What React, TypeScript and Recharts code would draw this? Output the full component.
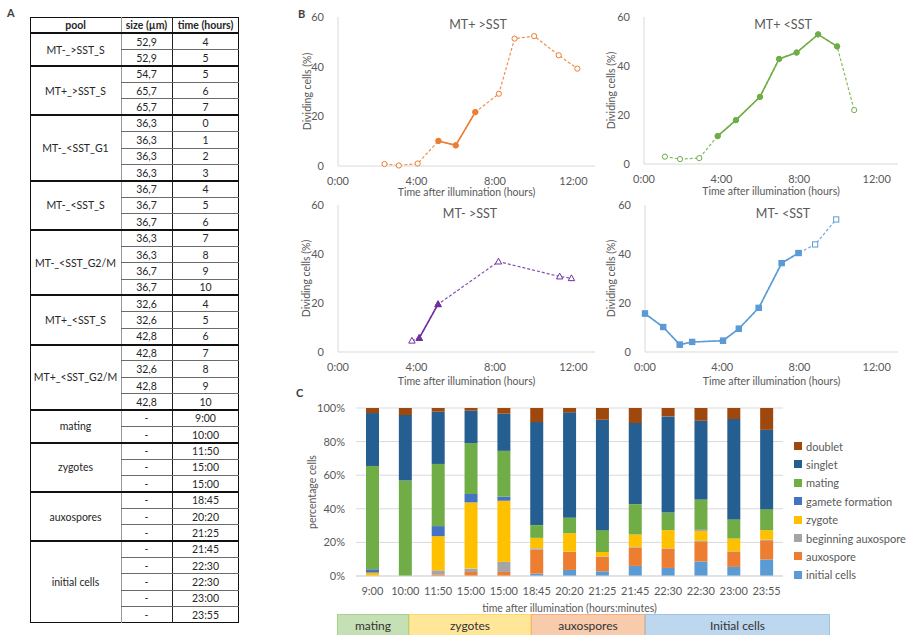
import React from 'react'
import { LineChart, Line, XAxis, YAxis, BarChart, Bar, CartesianGrid } from 'recharts'

const FONT = 'Lato, "Liberation Sans", sans-serif'
const GREY = '#595959'
const AXIS = '#d9d9d9'

// Panel A table
const poolNames = ['MT-_>SST_S', 'MT+_>SST_S', 'MT-_<SST_G1', 'MT-_<SST_S', 'MT-_<SST_G2/M', 'MT+_<SST_S', 'MT+_<SST_G2/M', 'mating', 'zygotes', 'auxospores', 'initial cells']
const poolSizes = [
  ['52,9', '52,9'], ['54,7', '65,7', '65,7'], ['36,3', '36,3', '36,3', '36,3'], ['36,7', '36,7', '36,7'],
  ['36,3', '36,3', '36,7', '36,7'], ['32,6', '32,6', '42,8'], ['42,8', '32,6', '42,8', '42,8'],
  ['-', '-'], ['-', '-', '-'], ['-', '-', '-'], ['-', '-', '-', '-', '-']
]
const poolTimes = [
  ['4', '5'], ['5', '6', '7'], ['0', '1', '2', '3'], ['4', '5', '6'], ['7', '8', '9', '10'], ['4', '5', '6'],
  ['7', '8', '9', '10'], ['9:00', '10:00'], ['11:50', '15:00', '15:00'], ['18:45', '20:20', '21:25'],
  ['21:45', '22:30', '22:30', '23:00', '23:55']
]
const tableHeaders = ['pool', 'size (µm)', 'time (hours)']

// Panel B: dividing cells (%) vs hours after illumination, 1 = measured on solid part
const mtPlusBigHours = [2.37, 3.1, 4.06, 5.12, 6.0, 7.0, 8.2, 9.0, 10.0, 11.25, 12.2]
const mtPlusBigValues = [0.8, 0.2, 1.0, 10.1, 8.3, 21.7, 29.1, 51.3, 52.3, 44.6, 39.2]
const mtPlusBigSolid = [0, 0, 0, 1, 1, 1, 0, 0, 0, 0, 0]

const mtPlusSmallHours = [1.08, 1.86, 2.85, 3.8, 4.74, 5.98, 6.97, 7.87, 8.98, 9.96, 10.84]
const mtPlusSmallValues = [3.0, 2.0, 2.4, 11.4, 17.9, 27.4, 42.9, 45.5, 52.9, 48.0, 22.0]
const mtPlusSmallSolid = [0, 0, 0, 1, 1, 1, 1, 1, 1, 1, 0]

const mtMinusBigHours = [3.77, 4.14, 5.1, 8.18, 11.3, 11.9]
const mtMinusBigValues = [4.6, 5.7, 19.5, 36.9, 30.8, 30.1]
const mtMinusBigSolid = [0, 1, 1, 0, 0, 0]

const mtMinusSmallHours = [0, 0.94, 1.8, 2.44, 4.04, 4.86, 5.89, 7.08, 7.95, 8.81, 9.9]
const mtMinusSmallValues = [15.7, 10.2, 3.0, 4.1, 4.6, 9.5, 18.0, 36.3, 40.4, 43.9, 54.1]
const mtMinusSmallSolid = [1, 1, 1, 1, 1, 1, 1, 1, 1, 0, 0]

// Panel C: stage composition per sample (%)
const sampleTimes = ['9:00', '10:00', '11:50', '15:00', '15:00', '18:45', '20:20', '21:25', '21:45', '22:30', '22:30', '23:00', '23:55']
const initialCells = [0, 0, 0, 0, 0, 1.4, 3.6, 2.8, 6, 4.8, 8.6, 5.4, 9.8]
const auxospore = [0, 0, 1, 2.4, 2.4, 14.3, 10.7, 8.6, 10.9, 11.5, 11.7, 8.9, 11.5]
const beginningAuxospore = [0, 0, 2.4, 2, 6, 0.8, 0.2, 0.3, 0.4, 0.2, 0.6, 0.4, 0.4]
const zygote = [2, 0, 20.3, 39.4, 36.4, 6.2, 11, 2.6, 7.4, 10.8, 6.2, 7.6, 5.6]
const gameteFormation = [2, 0, 6, 5, 2.4, 0, 0, 0, 0, 0, 0.6, 0, 0]
const mating = [61.5, 56.8, 37, 30.3, 27.3, 7.6, 9.2, 13, 18.1, 10.5, 17.9, 11.4, 12.5]
const singlet = [31.5, 39, 31.1, 19.3, 22.1, 61.3, 62.9, 65.7, 48.2, 57.2, 46.8, 59.7, 47.2]
const doublet = [3, 4.2, 2.2, 1.6, 3.4, 8.4, 2.6, 7, 9, 5, 7.6, 6.6, 13]

const stageNames = ['initial cells', 'auxospore', 'beginning auxospore', 'zygote', 'gamete formation', 'mating', 'singlet', 'doublet']
const stageValues = [initialCells, auxospore, beginningAuxospore, zygote, gameteFormation, mating, singlet, doublet]
const stageColors = ['#5b9bd5', '#ed7d31', '#a5a5a5', '#ffc000', '#4472c4', '#70ad47', '#255e91', '#9e480e']

const phaseNames = ['mating', 'zygotes', 'auxospores', 'Initial cells']
const phaseFills = ['#c5e0b4', '#ffe699', '#f8cbad', '#bdd7ee']
const phaseBorders = ['#a9d18e', '#ffd966', '#f4b183', '#9dc3e6']

// ---------- helpers ----------
const YTitle = ({ viewBox, text, gap }: any) => {
  const cx = viewBox.x + viewBox.width - gap
  const cy = viewBox.y + viewBox.height / 2
  return (
    <text x={cx} y={cy} transform={`rotate(-90 ${cx} ${cy})`} textAnchor="middle" dominantBaseline="central" fill={GREY} fontSize={10.5} fontFamily={FONT}>
      {text}
    </text>
  )
}

const XTitle = ({ viewBox, text, gap }: any) => {
  const cx = viewBox.x + viewBox.width / 2
  const cy = viewBox.y + gap
  return (
    <text x={cx} y={cy} textAnchor="middle" dominantBaseline="central" fill={GREY} fontSize={10.5} fontFamily={FONT}>
      {text}
    </text>
  )
}

const Marker = ({ cx, cy, shape, color, hollow }: any) => {
  if (cx == null || cy == null) return <g />
  const props = { fill: hollow ? '#fff' : color, stroke: color, strokeWidth: 1 }
  if (shape === 'triangle')
    return <path d={`M${cx},${cy - 3.4}L${cx + 3.2},${cy + 2.4}L${cx - 3.2},${cy + 2.4}Z`} {...props} />
  if (shape === 'square') return <rect x={cx - 2.6} y={cy - 2.6} width={5.2} height={5.2} {...props} />
  return <circle cx={cx} cy={cy} r={2.6} {...props} />
}

// ---------- panel A ----------
const TCOLS = [30, 121, 172, 239]
const TTOP = 17
const ROW_H = 16.38

function PoolTable() {
  const items: React.ReactNode[] = []
  const cell = (key: string, x0: number, x1: number, y: number, h: number, text: string, bold = false) => (
    <div key={key} style={{
      position: 'absolute', left: x0, top: y, width: x1 - x0, height: h,
      display: 'flex', alignItems: 'center', justifyContent: 'center',
      fontWeight: bold ? 700 : 400
    }}>{text}</div>
  )
  const hline = (key: string, x0: number, x1: number, y: number, w: number, c: string) => (
    <div key={key} style={{ position: 'absolute', left: x0, top: y - w / 2, width: x1 - x0, height: w, background: c }} />
  )
  tableHeaders.forEach((h, i) => items.push(cell(`h${i}`, TCOLS[i], TCOLS[i + 1], TTOP, ROW_H, h, true)))
  let row = 1
  poolNames.forEach((name, g) => {
    const n = poolSizes[g].length
    const y0 = TTOP + row * ROW_H
    items.push(cell(`p${g}`, TCOLS[0], TCOLS[1], y0, n * ROW_H, name))
    for (let i = 0; i < n; i++) {
      const y = y0 + i * ROW_H
      items.push(cell(`s${g}-${i}`, TCOLS[1], TCOLS[2], y, ROW_H, poolSizes[g][i]))
      items.push(cell(`t${g}-${i}`, TCOLS[2], TCOLS[3], y, ROW_H, poolTimes[g][i]))
      if (i > 0) items.push(hline(`l${g}-${i}`, TCOLS[1], TCOLS[3], y, 1, '#6b6b6b'))
    }
    items.push(hline(`g${g}`, TCOLS[0], TCOLS[3], y0, 2, '#111'))
    row += n
  })
  const bottom = TTOP + row * ROW_H
  return (
    <div style={{ position: 'absolute', left: 0, top: 0, fontSize: 10.5, color: '#262626' }}>
      <div style={{ position: 'absolute', left: 7, top: 6, fontSize: 11, fontWeight: 700, color: '#404040' }}>A</div>
      <div style={{ position: 'absolute', left: TCOLS[0], top: TTOP, width: TCOLS[3] - TCOLS[0], height: bottom - TTOP, border: '1.5px solid #111', boxSizing: 'border-box' }} />
      <div style={{ position: 'absolute', left: TCOLS[1], top: TTOP, width: 1, height: bottom - TTOP, background: '#999' }} />
      <div style={{ position: 'absolute', left: TCOLS[2], top: TTOP, width: 1, height: bottom - TTOP, background: '#222' }} />
      {items}
    </div>
  )
}

// ---------- panel B ----------
function DivisionChart({ title, hours, values, solid, color, shape, box, plot, titleAt, ygap, xgap }: any) {
  const data = hours.map((h: number, i: number) => ({ h, all: values[i], solid: solid[i] ? values[i] : null }))
  return (
    <div style={{ position: 'absolute', left: box.left, top: box.top, width: box.width, height: box.height, fontFamily: FONT }}>
      <LineChart
        width={box.width}
        height={box.height}
        data={data}
        margin={{ top: plot.top - box.top, right: box.left + box.width - plot.right, bottom: 0, left: 0 }}
      >
        <XAxis
          type="number" dataKey="h" domain={[0, 13.1]} ticks={[0, 4, 8, 12]}
          tickFormatter={(v: number) => `${v}:00`}
          stroke={AXIS} tickLine={false} tick={{ fill: GREY, fontSize: 11 }} tickMargin={5}
          height={box.top + box.height - plot.bottom}
          label={<XTitle text="Time after illumination (hours)" gap={xgap} />}
        />
        <YAxis
          type="number" domain={[0, 60]} ticks={[0, 20, 40, 60]} width={plot.left - box.left}
          stroke={AXIS} tickLine={false} tick={{ fill: GREY, fontSize: 11 }} tickMargin={8}
          label={<YTitle text="Dividing cells (%)" gap={ygap} />}
        />
        <Line
          dataKey="all" stroke={color} strokeWidth={1.2} strokeDasharray="3 2" strokeOpacity={0.85}
          isAnimationActive={false}
          dot={(p: any) => <Marker key={`o${p.index}`} cx={p.cx} cy={p.cy} shape={shape} color={color} hollow />}
        />
        <Line
          dataKey="solid" stroke={color} strokeWidth={1.6}
          isAnimationActive={false}
          dot={(p: any) => p.value == null
            ? <g key={`f${p.index}`} />
            : <Marker key={`f${p.index}`} cx={p.cx} cy={p.cy} shape={shape} color={color} />}
        />
      </LineChart>
      <div style={{
        position: 'absolute', left: titleAt[0] - box.left, top: titleAt[1] - box.top,
        transform: 'translate(-50%, -50%)', fontSize: 12.5, color: GREY, whiteSpace: 'nowrap', fontFamily: FONT
      }}>{title}</div>
    </div>
  )
}

// ---------- panel C ----------
const barRows = sampleTimes.map((_, i) => {
  const row: any = { idx: i }
  stageNames.forEach((s, k) => { row[s] = stageValues[k][i] })
  return row
})

function StageChart() {
  return (
    <div style={{ position: 'absolute', left: 300, top: 390, width: 609, height: 245 }}>
      <BarChart width={609} height={245} data={barRows} stackOffset="expand" barSize={13}
        margin={{ top: 18, right: 126, bottom: 0, left: 0 }}>
        <CartesianGrid vertical={false} stroke={AXIS} />
        <XAxis
          dataKey="idx" interval={0} tickFormatter={(v: number) => sampleTimes[v]}
          stroke={AXIS} tickLine={false} tick={{ fill: GREY, fontSize: 11 }} tickMargin={5} height={59}
          label={<XTitle text="time after illumination (hours:minutes)" gap={32} />}
        />
        <YAxis
          domain={[0, 1]} ticks={[0, 0.2, 0.4, 0.6, 0.8, 1]} width={56}
          tickFormatter={(v: number) => `${Math.round(v * 100)}%`}
          axisLine={false} tickLine={false} tick={{ fill: GREY, fontSize: 11 }} tickMargin={5}
          label={<YTitle text="percentage cells" gap={44} />}
        />
        {stageNames.map((s, k) => (
          <Bar key={s} dataKey={s} stackId="a" fill={stageColors[k]} isAnimationActive={false} />
        ))}
      </BarChart>
    </div>
  )
}

function StageLegend() {
  const order = stageNames.map((_, k) => k).reverse()
  return (
    <div style={{ position: 'absolute', left: 794, top: 437, fontSize: 11, color: GREY }}>
      {order.map((k, j) => (
        <div key={k} style={{ position: 'absolute', left: 0, top: j * 18.4, height: 18, display: 'flex', alignItems: 'center', whiteSpace: 'nowrap' }}>
          <span style={{ width: 8, height: 8, background: stageColors[k], marginRight: 4, display: 'inline-block' }} />
          {stageNames[k]}
        </div>
      ))}
    </div>
  )
}

function PhaseBoxes() {
  const edges = [337, 409, 531, 645, 830]
  return (
    <>
      {phaseNames.map((p, i) => (
        <div key={p} style={{
          position: 'absolute', left: edges[i], top: 614, width: edges[i + 1] - edges[i], height: 24,
          background: phaseFills[i], border: `1px solid ${phaseBorders[i]}`, boxSizing: 'border-box',
          display: 'flex', justifyContent: 'center', paddingTop: 3, fontSize: 12, color: '#333'
        }}>{p}</div>
      ))}
    </>
  )
}

export default function App() {
  return (
    <div style={{ position: 'absolute', left: 0, top: 0, width: 909, height: 635, background: '#fff', fontFamily: FONT, overflow: 'hidden' }}>
      <PoolTable />
      <div style={{ position: 'absolute', left: 298, top: 7, fontSize: 11, fontWeight: 700, color: '#404040' }}>B</div>
      <DivisionChart title="MT+ >SST" hours={mtPlusBigHours} values={mtPlusBigValues} solid={mtPlusBigSolid}
        color="#ed7d31" shape="circle"
        box={{ left: 290, top: 0, width: 310, height: 200 }} plot={{ left: 338, top: 17, right: 595, bottom: 166 }}
        titleAt={[478, 24]} ygap={31} xgap={26} />
      <DivisionChart title="MT+ <SST" hours={mtPlusSmallHours} values={mtPlusSmallValues} solid={mtPlusSmallSolid}
        color="#70ad47" shape="circle"
        box={{ left: 590, top: 0, width: 319, height: 200 }} plot={{ left: 644, top: 17, right: 898, bottom: 164 }}
        titleAt={[783, 24]} ygap={33} xgap={27} />
      <DivisionChart title="MT- >SST" hours={mtMinusBigHours} values={mtMinusBigValues} solid={mtMinusBigSolid}
        color="#7030a0" shape="triangle"
        box={{ left: 290, top: 190, width: 310, height: 200 }} plot={{ left: 338, top: 205, right: 595, bottom: 352 }}
        titleAt={[470, 213]} ygap={32} xgap={29} />
      <DivisionChart title="MT- <SST" hours={mtMinusSmallHours} values={mtMinusSmallValues} solid={mtMinusSmallSolid}
        color="#5b9bd5" shape="square"
        box={{ left: 590, top: 190, width: 319, height: 200 }} plot={{ left: 645, top: 205, right: 898, bottom: 352 }}
        titleAt={[783, 213]} ygap={34} xgap={29} />
      <div style={{ position: 'absolute', left: 296, top: 386, fontSize: 11, fontWeight: 700, color: '#404040' }}>C</div>
      <StageChart />
      <StageLegend />
      <PhaseBoxes />
    </div>
  )
}
